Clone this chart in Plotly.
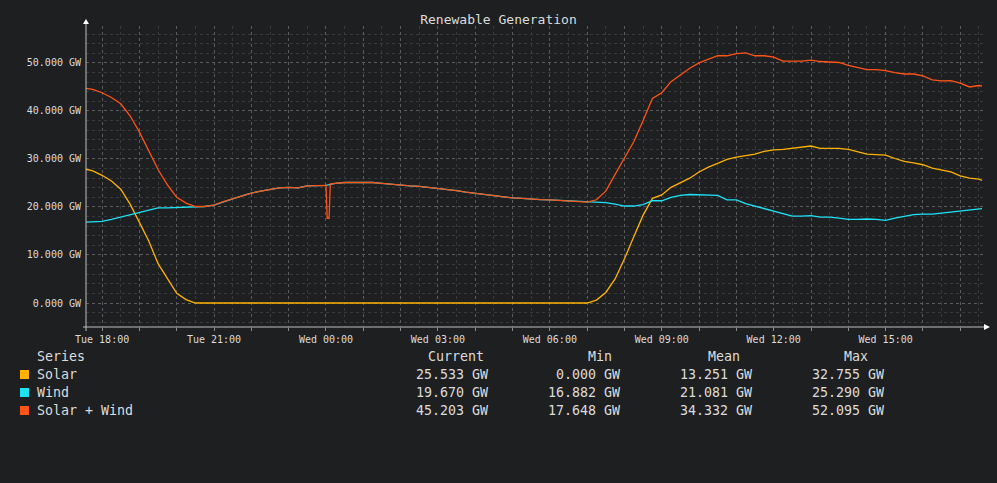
"""
Renewable generation chart (solar, wind and their sum over one day).
"""

import pandas as pd
import plotly.graph_objects as go

# sample times: every 15 min from Tue 17:30 to Wed 17:30, plus the last reading at 17:35
times = list(pd.date_range("2024-04-16 17:30", "2024-04-17 17:30", freq="15min"))
times.append(pd.Timestamp("2024-04-17 17:35"))

# GW values
solar = [
    28.0, 27.5, 26.6, 25.4, 23.7, 20.6, 16.8, 12.9, 8.2, 5.0, 2.0, 0.7, 0.0,
    0.0, 0.0, 0.0, 0.0, 0.0, 0.0, 0.0, 0.0, 0.0, 0.0, 0.0, 0.0, 0.0,
    0.0, 0.0, 0.0, 0.0, 0.0, 0.0, 0.0, 0.0, 0.0, 0.0, 0.0, 0.0, 0.0,
    0.0, 0.0, 0.0, 0.0, 0.0, 0.0, 0.0, 0.0, 0.0, 0.0, 0.0, 0.0, 0.0, 0.0, 0.0,
    0.0, 0.6, 2.2, 5.0, 9.2, 13.8, 18.3, 21.8, 22.5, 24.1, 25.1, 26.0,
    27.3, 28.3, 29.1, 29.9, 30.4, 30.7, 31.0, 31.6, 31.9, 32.0, 32.2, 32.4,
    32.7, 32.2, 32.2, 32.2, 32.0, 31.5, 31.0, 30.9, 30.8, 30.1, 29.5, 29.2,
    28.8, 28.1, 27.7, 27.3, 26.5, 26.0, 25.8, 25.53,
]

wind = [
    16.8, 16.9, 17.0, 17.4, 17.9, 18.4, 18.8, 19.3, 19.8, 19.8, 19.9, 20.0, 20.0,
    20.1, 20.4, 21.1, 21.7, 22.3, 22.9, 23.3, 23.7, 24.0, 24.1, 24.0, 24.4, 24.5,
    24.5, 24.9, 25.1, 25.1, 25.1, 25.1, 24.9, 24.7, 24.5, 24.4, 24.3, 24.1,
    23.9, 23.7, 23.4, 23.1, 22.85, 22.6, 22.3, 22.1, 21.9, 21.8, 21.6, 21.55,
    21.5, 21.4, 21.3, 21.1,
    21.0, 21.0, 20.9, 20.6, 20.2, 20.2, 20.5, 21.3, 21.3, 22.0, 22.4, 22.6,
    22.5, 22.5, 22.4, 21.5, 21.5, 20.7, 20.2, 19.6, 19.1, 18.7, 18.1, 18.1,
    18.2, 17.9, 17.9, 17.7, 17.4, 17.4, 17.5, 17.4, 17.2, 17.7, 18.1, 18.4,
    18.5, 18.5, 18.7, 18.9, 19.2, 19.4, 19.5, 19.67,
]

solar_wind = [
    44.8, 44.5, 43.8, 42.8, 41.5, 39.0, 35.6, 31.7, 27.8, 24.6, 22.0, 20.8, 20.1,
    20.1, 20.4, 21.1, 21.7, 22.3, 22.9, 23.3, 23.7, 24.0, 24.1, 24.0, 24.4, 24.5,
    24.5, 24.9, 25.1, 25.1, 25.1, 25.1, 24.9, 24.7, 24.5, 24.4, 24.3, 24.1,
    23.9, 23.7, 23.4, 23.1, 22.85, 22.6, 22.3, 22.1, 21.9, 21.8, 21.6, 21.55,
    21.5, 21.4, 21.3, 21.1,
    21.0, 21.5, 23.3, 26.8, 30.2, 33.6, 38.0, 42.6, 43.8, 46.1, 47.5, 48.9,
    50.0, 50.8, 51.5, 51.5, 51.95, 52.1, 51.5, 51.5, 51.2, 50.4, 50.4, 50.4,
    50.6, 50.3, 50.2, 50.1, 49.5, 49.0, 48.6, 48.6, 48.4, 48.0, 47.7, 47.7,
    47.3, 46.5, 46.25, 46.3, 45.8, 45.0, 45.3, 45.2,
]

# short drop in the combined series just after midnight
dip_times = ["2024-04-17 00:02", "2024-04-17 00:05", "2024-04-17 00:07"]
dip_values = [17.65, 17.65, 24.8]

# legend table
series_names = ["Solar", "Wind", "Solar + Wind"]
series_colors = ["#ffb300", "#1ee3f7", "#ff5416"]
stat_current = ["25.533 GW", "19.670 GW", "45.203 GW"]
stat_min = ["0.000 GW", "16.882 GW", "17.648 GW"]
stat_mean = ["13.251 GW", "21.081 GW", "34.332 GW"]
stat_max = ["32.755 GW", "25.290 GW", "52.095 GW"]

# x tick labels every 3 hours, plain ticks every hour
tick_hours = list(pd.date_range("2024-04-16 18:00", "2024-04-17 17:00", freq="1h"))
tick_text = [t.strftime("%a %H:%M") if t.hour % 3 == 0 else "" for t in tick_hours]

BG = "#1e1f21"
TEXT = "#dcdcdc"
FONT = "DejaVu Sans Mono"

# plot area in pixels
L, R, T, B = 86, 984, 26, 327


def px_x(p):
    return (p - L) / (R - L)


def px_y(p):
    return (B - p) / (B - T)


combined = pd.concat([
    pd.Series(solar_wind, index=pd.DatetimeIndex(times)),
    pd.Series(dip_values, index=pd.to_datetime(dip_times)),
]).sort_index()

fig = go.Figure()

fig.add_trace(go.Scatter(x=times, y=solar, mode="lines", name="Solar",
                         line=dict(color=series_colors[0], width=1.3)))
fig.add_trace(go.Scatter(x=times, y=wind, mode="lines", name="Wind",
                         line=dict(color=series_colors[1], width=1.3)))
fig.add_trace(go.Scatter(x=combined.index, y=combined.values, mode="lines",
                         name="Solar + Wind",
                         line=dict(color=series_colors[2], width=1.3)))

fig.update_layout(
    width=997,
    height=483,
    paper_bgcolor=BG,
    plot_bgcolor=BG,
    showlegend=False,
    margin=dict(l=L, r=997 - R, t=T, b=483 - B, pad=0),
    font=dict(family=FONT, color=TEXT, size=10),
    title=dict(text="Renewable Generation", x=0.5, xref="container",
               y=1 - 19 / 483, yref="container", yanchor="middle",
               xanchor="center", font=dict(family=FONT, size=13, color=TEXT)),
    xaxis=dict(
        type="date",
        range=["2024-04-16 17:34:06", "2024-04-17 17:38:13"],
        tickmode="array",
        tickvals=tick_hours,
        ticktext=tick_text,
        ticks="outside",
        ticklen=3,
        tickcolor="#8a8a8a",
        tickfont=dict(family=FONT, size=10, color=TEXT),
        showgrid=True,
        gridcolor="#5c5c5c",
        griddash="dot",
        gridwidth=1,
        minor=dict(tick0="2024-04-16 17:30", dtick=30 * 60 * 1000,
                   showgrid=True, gridcolor="#38393b", griddash="dot",
                   ticks=""),
        showline=False,
        zeroline=False,
        fixedrange=True,
    ),
    yaxis=dict(
        range=[-5, 57.7],
        tick0=0,
        dtick=10,
        tickformat=".3f",
        ticksuffix=" GW",
        ticks="",
        ticklabelstandoff=4,
        tickfont=dict(family=FONT, size=10, color=TEXT),
        showgrid=True,
        gridcolor="#5c5c5c",
        griddash="dot",
        gridwidth=1,
        minor=dict(dtick=2, showgrid=True, gridcolor="#38393b", griddash="dot"),
        showline=False,
        zeroline=False,
        fixedrange=True,
    ),
)

axis_col = "#bfbfbf"
# axis lines with arrow heads
fig.add_shape(type="line", xref="paper", yref="paper",
              x0=px_x(86), x1=px_x(86), y0=px_y(331), y1=px_y(23),
              line=dict(color=axis_col, width=1))
fig.add_shape(type="line", xref="paper", yref="paper",
              x0=px_x(83), x1=px_x(986), y0=px_y(327), y1=px_y(327),
              line=dict(color=axis_col, width=1))
fig.add_shape(type="path", xref="paper", yref="paper",
              path=f"M {px_x(83)} {px_y(24)} L {px_x(89)} {px_y(24)} L {px_x(86)} {px_y(19)} Z",
              fillcolor="#ffffff", line=dict(width=0))
fig.add_shape(type="path", xref="paper", yref="paper",
              path=f"M {px_x(984)} {px_y(324)} L {px_x(984)} {px_y(330)} L {px_x(990)} {px_y(327)} Z",
              fillcolor="#ffffff", line=dict(width=0))

# legend table under the plot
fs = 13.3
fig.add_annotation(text="Series", x=px_x(35), y=px_y(356), xref="paper", yref="paper",
                   xanchor="left", yanchor="middle", showarrow=False,
                   font=dict(family=FONT, size=fs, color=TEXT))
headers = [("Current", 456), ("Min", 600), ("Mean", 724), ("Max", 856)]
for label, cx in headers:
    fig.add_annotation(text=label, x=px_x(cx), y=px_y(356), xref="paper", yref="paper",
                       xanchor="center", yanchor="middle", showarrow=False,
                       font=dict(family=FONT, size=fs, color=TEXT))

columns = [(stat_current, 490), (stat_min, 622), (stat_mean, 754), (stat_max, 886)]
for i, name in enumerate(series_names):
    row_y = 374 + 18 * i
    fig.add_shape(type="rect", xref="paper", yref="paper",
                  x0=px_x(20), x1=px_x(29), y0=px_y(row_y + 5), y1=px_y(row_y - 4),
                  fillcolor=series_colors[i], line=dict(width=0))
    fig.add_annotation(text=name, x=px_x(35), y=px_y(row_y), xref="paper", yref="paper",
                       xanchor="left", yanchor="middle", showarrow=False,
                       font=dict(family=FONT, size=fs, color=TEXT))
    for values, right in columns:
        fig.add_annotation(text=values[i], x=px_x(right), y=px_y(row_y),
                           xref="paper", yref="paper", xanchor="right",
                           yanchor="middle", showarrow=False,
                           font=dict(family=FONT, size=fs, color=TEXT))

# drop the default page margin so the figure fills the window
fig.write_html("out.html", config={"displayModeBar": False},
               post_script="document.body.style.margin='0';")
